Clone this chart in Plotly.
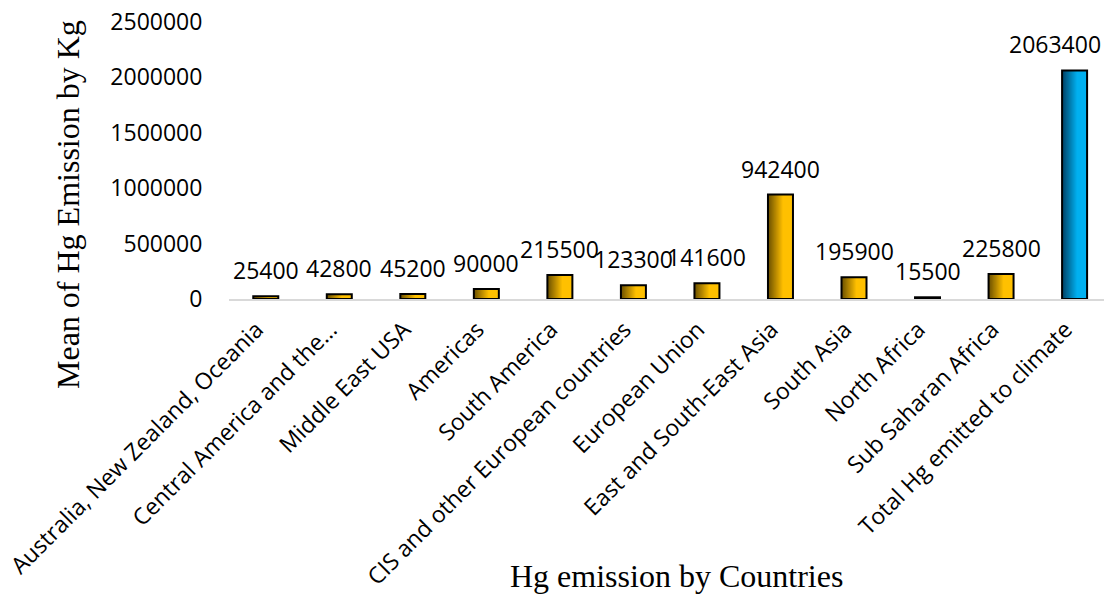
import plotly.graph_objects as go

categories = [
    "Australia, New Zealand, Oceania",
    "Central America and the…",
    "Middle East USA",
    "Americas",
    "South America",
    "CIS and other European countries",
    "European Union",
    "East and South-East Asia",
    "South Asia",
    "North Africa",
    "Sub Saharan Africa",
    "Total Hg emitted to climate",
]
emissions = [25400, 42800, 45200, 90000, 215500, 123300, 141600, 942400, 195900, 15500, 225800, 2063400]
y_ticks = [0, 500000, 1000000, 1500000, 2000000, 2500000]

# style
W, H = 1104, 594
L, R, T, B = 229, 0, 22, 295
bar_w = 0.34
N = 24

def lerp(c1, c2, t):
    return "rgb(%d,%d,%d)" % tuple(round(a + (b - a) * t) for a, b in zip(c1, c2))

gold_dark, gold_light = (105, 78, 0), (255, 192, 0)
blue_dark, blue_light = (0, 65, 100), (0, 176, 240)

fig = go.Figure()
step = bar_w / N
for k in range(N):
    t = min(1.0, (k + 0.5) / (N * 0.6))
    cols = [lerp(blue_dark, blue_light, t) if i == len(categories) - 1 else lerp(gold_dark, gold_light, t)
            for i in range(len(categories))]
    fig.add_trace(go.Bar(
        x=categories, y=emissions,
        width=bar_w - k * step, offset=-bar_w / 2 + k * step,
        marker=dict(color=cols, line=dict(width=0)),
        showlegend=False, hoverinfo="skip",
    ))
fig.add_trace(go.Bar(
    x=categories, y=emissions, width=bar_w, offset=-bar_w / 2,
    marker=dict(color="rgba(0,0,0,0)", line=dict(color="black", width=2)),
    showlegend=False,
))

for i, (c, v) in enumerate(zip(categories, emissions)):
    fig.add_annotation(x=c, y=v, text=str(v), showarrow=False, yanchor="middle", xanchor="center",
                       yshift=26, xshift=-20 if i == len(categories) - 1 else 0,
                       font=dict(family="Open Sans", size=23, color="black"))

fig.add_annotation(xref="paper", yref="paper", x=(68 - L) / (W - L - R), y=(299 - 205) / (H - T - B),
                   xanchor="center", yanchor="middle",
                   text="Mean of Hg Emission by Kg", textangle=-90, showarrow=False,
                   font=dict(family="Liberation Serif", size=32, color="black"))
fig.add_annotation(xref="paper", yref="paper", x=(676 - L) / (W - L - R), y=(299 - 576) / (H - T - B),
                   xanchor="center", yanchor="middle",
                   text="Hg emission by Countries", showarrow=False,
                   font=dict(family="Liberation Serif", size=32, color="black"))

fig.update_layout(
    width=W, height=H, margin=dict(l=L, r=R, t=T, b=B),
    plot_bgcolor="white", paper_bgcolor="white", barmode="overlay",
    xaxis=dict(type="category", range=[-0.5, 11.4], tickangle=-45, showgrid=False,
               showline=True, linecolor="#d9d9d9", linewidth=2, ticks="",
               ticklabelshift=-9, ticklabelstandoff=6,
               tickfont=dict(family="Open Sans", size=23, color="black")),
    yaxis=dict(range=[0, 2500000], tickvals=y_ticks, ticktext=[str(v) for v in y_ticks],
               showgrid=False, zeroline=False, showline=False, ticks="outside", ticklen=21,
               tickcolor="rgba(0,0,0,0)", tickfont=dict(family="Open Sans", size=23, color="black")),
)
fig.write_html("out.html")
